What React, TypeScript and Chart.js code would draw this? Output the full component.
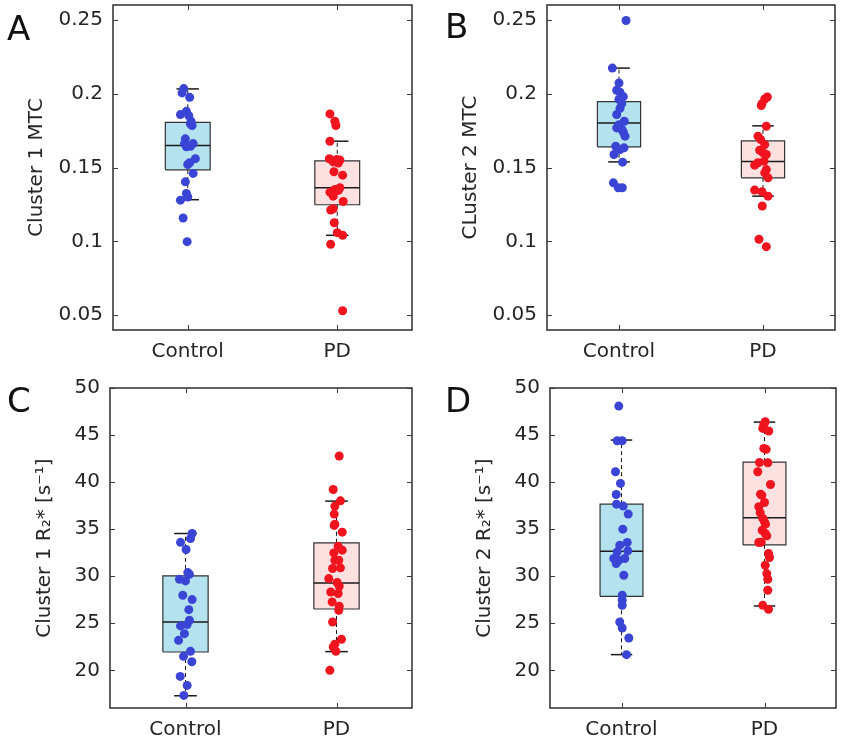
import React, { useEffect, useRef } from 'react';
import { Chart, registerables } from 'chart.js';

Chart.register(...registerables);

// ---------- data ----------
const groups = ['Control', 'PD'];
const mtcTicks = [0.05, 0.1, 0.15, 0.2, 0.25];
const r2Ticks = [20, 25, 30, 35, 40, 45, 50];

// Panel A: Cluster 1 MTC
const aControl = [0.2034, 0.2005, 0.1975, 0.188, 0.1858, 0.185, 0.1813, 0.1795, 0.1784, 0.1694, 0.1662, 0.1662, 0.164, 0.1644, 0.156, 0.1532, 0.152, 0.146, 0.1403, 0.1324, 0.13, 0.1279, 0.1158, 0.0998];
const aControlJitter = [-0.027, -0.038, 0.013, -0.009, -0.049, 0.007, 0.022, 0.018, 0.029, -0.016, -0.022, 0.036, -0.009, 0.018, 0.051, 0.013, 0, 0.036, -0.016, -0.009, 0, -0.049, -0.031, -0.004];
const aPD = [0.1863, 0.1813, 0.1784, 0.1678, 0.1559, 0.1538, 0.155, 0.1555, 0.153, 0.1471, 0.1448, 0.1363, 0.1351, 0.1333, 0.1345, 0.1306, 0.127, 0.1221, 0.1212, 0.1126, 0.1059, 0.1041, 0.098, 0.053];
const aPDJitter = [-0.049, -0.016, -0.009, -0.049, -0.053, -0.027, 0.018, -0.004, 0.007, -0.022, 0.036, 0.018, -0.016, -0.049, 0.007, -0.027, 0.04, -0.027, -0.044, -0.02, 0, 0.036, -0.044, 0.036];
// [lower whisker, Q1, median, Q3, upper whisker]
const aControlBox = [0.1282, 0.1484, 0.1649, 0.1806, 0.2032];
const aPDBox = [0.1041, 0.1248, 0.1363, 0.1545, 0.1678];

// Panel B: Cluster 2 MTC
const bControl = [0.2495, 0.2173, 0.2072, 0.2023, 0.2009, 0.198, 0.1962, 0.1932, 0.19, 0.1858, 0.1813, 0.179, 0.1768, 0.1757, 0.174, 0.1712, 0.1644, 0.1633, 0.1622, 0.1588, 0.1536, 0.1396, 0.1363, 0.1363];
const bControlJitter = [0.049, -0.046, 0, -0.016, 0.007, 0.03, 0, 0.019, 0.007, -0.016, 0.037, 0, -0.016, 0.019, 0.03, 0.042, -0.023, 0.035, 0.007, -0.035, 0.025, -0.039, -0.005, 0.023];
const bPD = [0.1977, 0.1964, 0.1932, 0.1919, 0.1779, 0.1712, 0.1689, 0.1655, 0.1617, 0.1588, 0.16, 0.1543, 0.1532, 0.1516, 0.1486, 0.1464, 0.143, 0.1347, 0.1336, 0.1306, 0.1239, 0.1014, 0.0964];
const bPDJitter = [0.03, 0.012, -0.007, -0.012, 0.023, -0.035, -0.016, 0.012, -0.023, 0.023, 0, 0.007, -0.035, -0.058, 0.023, 0.012, 0.035, -0.058, -0.007, 0.035, -0.005, -0.028, 0.023];
const bControlBox = [0.1538, 0.164, 0.1802, 0.1946, 0.2173];
const bPDBox = [0.1306, 0.143, 0.1541, 0.168, 0.1782];

// Panel C: Cluster 1 R2*
const cControl = [34.54, 34.0, 33.6, 32.84, 30.39, 30.21, 29.68, 29.5, 27.98, 27.52, 26.45, 25.32, 24.86, 24.72, 23.9, 23.19, 22.02, 21.49, 20.92, 19.36, 18.4, 17.34];
const cControlJitter = [0.044, 0.033, -0.033, 0.004, 0.015, 0.026, -0.04, 0, -0.018, 0.044, 0.022, 0.026, 0.011, -0.033, -0.007, -0.046, 0.033, -0.013, 0.042, -0.035, 0.011, -0.011];
const cPD = [42.77, 39.22, 38.01, 37.45, 36.6, 35.53, 35.4, 34.68, 33.19, 32.77, 32.48, 31.7, 31.7, 30.82, 30.89, 29.75, 29.33, 28.94, 28.33, 28.16, 27.27, 26.81, 26.38, 25.14, 23.3, 22.77, 22.48, 22.02, 20.0];
const cPDJitter = [0.018, -0.022, 0.026, -0.011, -0.015, -0.011, -0.015, 0.038, 0.011, 0.038, -0.018, -0.011, 0.015, -0.026, 0.026, -0.051, 0.004, 0.018, -0.038, 0.011, -0.029, 0.018, 0.015, -0.026, 0.033, -0.011, -0.022, -0.004, -0.044];
const cControlBox = [17.3, 21.95, 25.14, 30.04, 34.54];
const cPDBox = [21.99, 26.52, 29.29, 33.55, 37.98];

// Panel D: Cluster 2 R2*
const dControl = [48.08, 44.4, 44.4, 41.1, 39.86, 38.69, 37.66, 37.45, 36.6, 35.0, 33.58, 33.3, 32.59, 32.7, 31.88, 31.88, 31.7, 31.35, 30.11, 27.98, 27.45, 26.91, 25.14, 24.5, 23.44, 21.67];
const dControlJitter = [-0.019, -0.03, 0.005, -0.042, -0.007, -0.037, -0.035, 0.012, 0.047, 0.009, 0.04, -0.012, -0.03, 0.044, -0.054, 0.023, -0.019, -0.037, 0.016, 0.005, 0.005, 0.005, -0.012, 0.005, 0.051, 0.035];
const dPD = [46.42, 46.13, 45.71, 45.43, 43.58, 43.48, 42.09, 42.06, 41.1, 39.75, 38.72, 38.6, 37.84, 37.38, 36.74, 36.13, 35.78, 35.53, 34.89, 34.54, 34.29, 33.58, 33.6, 32.41, 31.99, 31.17, 30.28, 29.68, 28.51, 26.91, 26.49];
const dPDJitter = [0.005, -0.005, -0.012, 0.03, -0.005, 0.012, -0.035, 0.023, -0.047, 0.042, -0.028, -0.019, 0, -0.04, -0.03, -0.012, 0, 0.007, -0.016, 0.005, 0.016, -0.04, -0.023, 0.028, 0.035, 0.005, 0.016, 0.023, 0.023, -0.012, 0.028];
const dControlBox = [21.67, 27.87, 32.66, 37.66, 44.47];
const dPDBox = [26.84, 33.33, 36.21, 42.13, 46.38];

// ---------- styling / layout ----------
const FONT = "'DejaVu Sans', 'Noto Sans', sans-serif";
const TEXT = '#262626';
const pointColors = ['#3a45d6', '#f0141e'];
const boxFills = ['#b4e2ee', '#fde0e0'];
const BOX_HALF = 0.15;
const CAP_HALF = 0.075;

type PanelCfg = {
  letter: string; title: string;
  values: number[][]; jitter: number[][]; box: number[][];
  yMin: number; yMax: number; ticks: number[];
  left: number; top: number; w: number; h: number;
  axisW: number; padTop: number; padRight: number; xAxisH: number; titlePad: number;
  letterX: number; letterY: number;
};

const panels: PanelCfg[] = [
  { letter: 'A', title: 'Cluster 1 MTC', values: [aControl, aPD], jitter: [aControlJitter, aPDJitter], box: [aControlBox, aPDBox],
    yMin: 0.04, yMax: 0.26, ticks: mtcTicks, left: 0, top: 0, w: 425, h: 372, axisW: 113, padTop: 5, padRight: 13, xAxisH: 42, titlePad: 25, letterX: 7, letterY: 11 },
  { letter: 'B', title: 'CLuster 2 MTC', values: [bControl, bPD], jitter: [bControlJitter, bPDJitter], box: [bControlBox, bPDBox],
    yMin: 0.04, yMax: 0.26, ticks: mtcTicks, left: 425, top: 0, w: 417, h: 372, axisW: 122, padTop: 5, padRight: 7, xAxisH: 42, titlePad: 34, letterX: 445, letterY: 9 },
  { letter: 'C', title: 'Cluster 1 R₂* [s⁻¹]', values: [cControl, cPD], jitter: [cControlJitter, cPDJitter], box: [cControlBox, cPDBox],
    yMin: 16, yMax: 50, ticks: r2Ticks, left: 0, top: 372, w: 425, h: 372, axisW: 110, padTop: 16, padRight: 13, xAxisH: 36, titlePad: 33, letterX: 7, letterY: 383 },
  { letter: 'D', title: 'Cluster 2 R₂* [s⁻¹]', values: [dControl, dPD], jitter: [dControlJitter, dPDJitter], box: [dControlBox, dPDBox],
    yMin: 16, yMax: 50, ticks: r2Ticks, left: 425, top: 372, w: 417, h: 372, axisW: 125, padTop: 16, padRight: 6, xAxisH: 36, titlePad: 48, letterX: 445, letterY: 383 },
];

const framePlugin = {
  id: 'matlabFrame',
  afterDatasetsDraw(chart: any) {
    const { ctx, chartArea } = chart;
    const { left, top, right, bottom } = chartArea;
    const x = chart.scales.x;
    const y = chart.scales.y;
    const tl = 5;
    ctx.save();
    ctx.strokeStyle = '#3a3a3a';
    ctx.lineWidth = 1;
    const seg = (x1: number, y1: number, x2: number, y2: number) => {
      ctx.beginPath(); ctx.moveTo(x1, y1); ctx.lineTo(x2, y2); ctx.stroke();
    };
    y.ticks.forEach((t: any) => {
      const py = Math.round(y.getPixelForValue(t.value)) + 0.5;
      seg(left, py, left + tl, py);
      seg(right, py, right - tl, py);
    });
    x.ticks.forEach((t: any) => {
      const px = Math.round(x.getPixelForValue(t.value)) + 0.5;
      seg(px, bottom, px, bottom - tl);
      seg(px, top, px, top + tl);
    });
    ctx.lineWidth = 1.6;
    ctx.strokeRect(left, top, right - left, bottom - top);
    ctx.restore();
  },
};

function Panel({ cfg }: { cfg: PanelCfg }) {
  const ref = useRef<HTMLCanvasElement>(null);
  useEffect(() => {
    if (!ref.current) return;
    const datasets: any[] = [];
    cfg.values.forEach((vals, gi) => {
      const c = gi + 1;
      datasets.push({
        type: 'scatter',
        data: vals.map((v, i) => ({ x: c + cfg.jitter[gi][i], y: v })),
        pointRadius: 4.5,
        pointHoverRadius: 4.5,
        backgroundColor: pointColors[gi],
        borderWidth: 0,
        order: 0,
      });
    });
    const lineDs = (data: any[], extra: any) => ({
      type: 'line', data, pointRadius: 0, borderColor: '#1a1a1a', borderWidth: 1.2, fill: false, ...extra,
    });
    cfg.box.forEach((b, gi) => {
      const c = gi + 1;
      const [lo, q1, med, q3, hi] = b;
      datasets.push(lineDs([
        { x: c - BOX_HALF, y: q1 }, { x: c + BOX_HALF, y: q1 }, { x: c + BOX_HALF, y: q3 },
        { x: c - BOX_HALF, y: q3 }, { x: c - BOX_HALF, y: q1 },
      ], { fill: 'shape', backgroundColor: boxFills[gi], borderColor: '#333333', borderWidth: 1.2, order: 4 }));
      datasets.push(lineDs([{ x: c, y: q3 }, { x: c, y: hi }], { borderDash: [4, 3], borderWidth: 1, order: 3 }));
      datasets.push(lineDs([{ x: c, y: q1 }, { x: c, y: lo }], { borderDash: [4, 3], borderWidth: 1, order: 3 }));
      datasets.push(lineDs([{ x: c - CAP_HALF, y: hi }, { x: c + CAP_HALF, y: hi }], { borderWidth: 1.5, order: 2 }));
      datasets.push(lineDs([{ x: c - CAP_HALF, y: lo }, { x: c + CAP_HALF, y: lo }], { borderWidth: 1.5, order: 2 }));
      datasets.push(lineDs([{ x: c - BOX_HALF, y: med }, { x: c + BOX_HALF, y: med }], { borderWidth: 1.5, order: 1 }));
    });

    const tickFont = { family: FONT, size: 20 };
    const chart = new Chart(ref.current, {
      type: 'scatter',
      data: { datasets },
      options: {
        responsive: false,
        animation: false,
        devicePixelRatio: 1,
        events: [],
        layout: { padding: { top: cfg.padTop, right: cfg.padRight, left: 0, bottom: 0 } },
        plugins: { legend: { display: false }, tooltip: { enabled: false } },
        scales: {
          x: {
            type: 'linear', min: 0.5, max: 2.5,
            afterBuildTicks: (s: any) => { s.ticks = [1, 2].map((v) => ({ value: v })); },
            afterFit: (s: any) => { s.height = cfg.xAxisH; s.paddingLeft = 0; s.paddingRight = 0; },
            ticks: {
              callback: (v: any) => groups[Math.round(Number(v)) - 1] ?? '',
              font: tickFont, color: TEXT, padding: 10, maxRotation: 0, autoSkip: false,
            },
            grid: { display: false, drawTicks: false },
            border: { display: false },
          },
          y: {
            type: 'linear', min: cfg.yMin, max: cfg.yMax,
            afterBuildTicks: (s: any) => { s.ticks = cfg.ticks.map((v) => ({ value: v })); },
            afterFit: (s: any) => { s.width = cfg.axisW; s.paddingTop = 0; s.paddingBottom = 0; },
            ticks: { callback: (v: any) => String(v), font: tickFont, color: TEXT, padding: 10, autoSkip: false },
            grid: { display: false, drawTicks: false },
            border: { display: false },
            title: { display: true, text: cfg.title, font: { family: FONT, size: 20 }, color: TEXT, padding: { top: cfg.titlePad, bottom: 0 } },
          },
        },
      } as any,
      plugins: [framePlugin],
    });
    return () => chart.destroy();
  }, [cfg]);

  return (
    <>
      <canvas
        ref={ref}
        width={cfg.w}
        height={cfg.h}
        style={{ position: 'absolute', left: cfg.left, top: cfg.top, width: cfg.w, height: cfg.h }}
      />
      <div
        style={{
          position: 'absolute', left: cfg.letterX, top: cfg.letterY, fontFamily: FONT,
          fontSize: 34, lineHeight: '34px', color: '#111', whiteSpace: 'nowrap',
        }}
      >
        {cfg.letter}
      </div>
    </>
  );
}

export default function App() {
  return (
    <div style={{ position: 'absolute', left: 0, top: 0, width: 842, height: 744, background: '#ffffff', overflow: 'hidden' }}>
      {panels.map((p) => (
        <Panel key={p.letter} cfg={p} />
      ))}
    </div>
  );
}
